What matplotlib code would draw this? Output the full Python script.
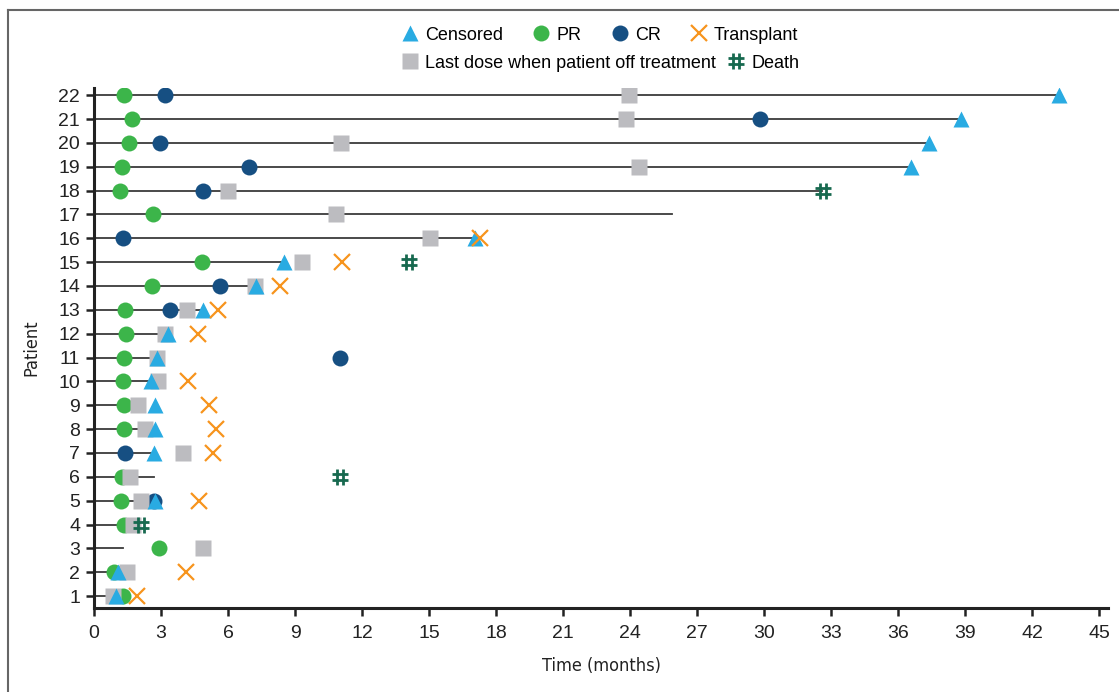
import matplotlib
matplotlib.use("Agg")
import matplotlib.pyplot as plt
from matplotlib.lines import Line2D
from matplotlib.path import Path

plt.rcParams['font.family'] = ['Liberation Sans', 'DejaVu Sans']

# patient number -> end of the follow-up line (months)
patients = list(range(1, 23))
line_end = [0.8, 0.9, 1.3, 1.6, 2.7, 2.7, 2.6, 2.3, 1.6, 2.5, 2.8,
            3.2, 4.9, 7.2, 8.5, 17.0, 25.9, 32.6, 36.6, 37.4, 38.8, 43.2]

pr_pat = [1, 2, 3, 4, 5, 6, 8, 9, 10, 11, 12, 13, 14, 15, 17, 18, 19, 20, 21, 22]
pr_time = [1.3, 0.9, 2.9, 1.35, 1.2, 1.25, 1.34, 1.34, 1.3, 1.34, 1.43, 1.38,
           2.59, 4.82, 2.63, 1.16, 1.25, 1.56, 1.7, 1.34]

cr_pat = [5, 7, 11, 13, 14, 16, 18, 19, 20, 21, 22]
cr_time = [2.68, 1.38, 11.0, 3.39, 5.66, 1.29, 4.9, 6.96, 2.94, 29.8, 3.17]

dose_pat = list(range(1, 23))
dose_time = [0.86, 1.46, 4.86, 1.74, 2.1, 1.6, 4.0, 2.27, 1.96, 2.85, 2.8,
             3.2, 4.15, 7.23, 9.32, 15.03, 10.84, 6.0, 24.4, 11.06, 23.8, 23.95]

cens_pat = [1, 2, 5, 7, 8, 9, 10, 11, 12, 13, 14, 15, 16, 19, 20, 21, 22]
cens_time = [0.97, 1.08, 2.72, 2.68, 2.72, 2.72, 2.54, 2.8, 3.3, 4.9, 7.27,
             8.52, 17.04, 36.6, 37.4, 38.8, 43.2]

tx_pat = [1, 2, 5, 7, 8, 9, 10, 12, 13, 14, 15, 16]
tx_time = [1.93, 4.1, 4.68, 5.35, 5.44, 5.17, 4.2, 4.64, 5.53, 8.34, 11.1, 17.3]

death_pat = [4, 6, 15, 18]
death_time = [2.1, 11.0, 14.1, 32.65]

c_cens = '#29abe2'
c_pr = '#3cb54a'
c_cr = '#164f82'
c_tx = '#f7941d'
c_dose = '#bcbcc0'
c_death = '#17694f'

# '#' glyph as a marker path
hash_path = Path(
    [(-0.35, -1), (-0.35, 1), (0.35, -1), (0.35, 1),
     (-1, 0.35), (1, 0.35), (-1, -0.35), (1, -0.35)],
    [Path.MOVETO, Path.LINETO] * 4)

fig = plt.figure(figsize=(11.19, 6.92), dpi=100)
ax = fig.add_axes([94 / 1119, 1 - 608 / 692, (1108 - 94) / 1119, (608 - 88) / 692])

for p, e in zip(patients, line_end):
    ax.plot([0, e], [p, p], color='#3a3a3a', lw=1.3, zorder=1)

ax.plot(pr_time, pr_pat, 'o', ms=11.5, color=c_pr, mec='none', zorder=2)
ax.plot(cr_time, cr_pat, 'o', ms=11.5, color=c_cr, mec='none', zorder=3)
ax.plot(dose_time, dose_pat, 's', ms=12, color=c_dose, mec='none', zorder=4)
ax.plot(cens_time, cens_pat, '^', ms=12, color=c_cens, mec='none', zorder=5)
ax.plot(tx_time, tx_pat, 'x', ms=12, color=c_tx, mew=1.6, zorder=6)
ax.plot(death_time, death_pat, ls='none', marker=hash_path, ms=11,
        color=c_death, mew=2.0, mfc='none', zorder=7)

ax.set_xlim(0, 45.4)
ax.set_ylim(0.5, 22.3)
ax.set_xticks(range(0, 46, 3))
ax.set_yticks(patients)
ax.tick_params(axis='both', direction='out', length=6, width=1.8,
               labelsize=14, color='#222222', labelcolor='#222222')
ax.tick_params(axis='x', pad=6)
ax.tick_params(axis='y', pad=4)
for s in ['top', 'right']:
    ax.spines[s].set_visible(False)
for s in ['left', 'bottom']:
    ax.spines[s].set_linewidth(2.2)
    ax.spines[s].set_color('#222222')

ax.set_xlabel('Time (months)', fontsize=13, family='DejaVu Sans', fontstretch='condensed',
              color='#222222', labelpad=11)
ax.set_ylabel('Patient', fontsize=13, family='DejaVu Sans', fontstretch='condensed',
              color='#222222', labelpad=13)

h1 = [Line2D([], [], ls='none', marker='^', ms=12, color=c_cens, mec='none'),
      Line2D([], [], ls='none', marker='o', ms=11.5, color=c_pr, mec='none'),
      Line2D([], [], ls='none', marker='o', ms=11.5, color=c_cr, mec='none'),
      Line2D([], [], ls='none', marker='x', ms=12, color=c_tx, mew=1.6)]
leg1 = fig.legend(h1, ['Censored', 'PR', 'CR', 'Transplant'], ncol=4,
                  loc='center left', bbox_to_anchor=(401 / 1119, 1 - 35 / 692),
                  frameon=False, fontsize=13, handlelength=1.0, handletextpad=0.35,
                  columnspacing=1.6, borderpad=0, borderaxespad=0)
h2 = [Line2D([], [], ls='none', marker='s', ms=12, color=c_dose, mec='none'),
      Line2D([], [], ls='none', marker=hash_path, ms=11, color=c_death, mew=2.0, mfc='none')]
leg2 = fig.legend(h2, ['Last dose when patient off treatment', 'Death'], ncol=2,
                  loc='center left', bbox_to_anchor=(401 / 1119, 1 - 63 / 692),
                  frameon=False, fontsize=13, handlelength=1.0, handletextpad=0.35,
                  columnspacing=0.6, borderpad=0, borderaxespad=0)

# outer frame (top and left edges)
fig.add_artist(Line2D([8 / 1119, 1], [1 - 10 / 692, 1 - 10 / 692],
                      transform=fig.transFigure, color='#666666', lw=1.5))
fig.add_artist(Line2D([8 / 1119, 8 / 1119], [0, 1 - 10 / 692],
                      transform=fig.transFigure, color='#666666', lw=1.5))

fig.savefig('out.png', dpi=100)
